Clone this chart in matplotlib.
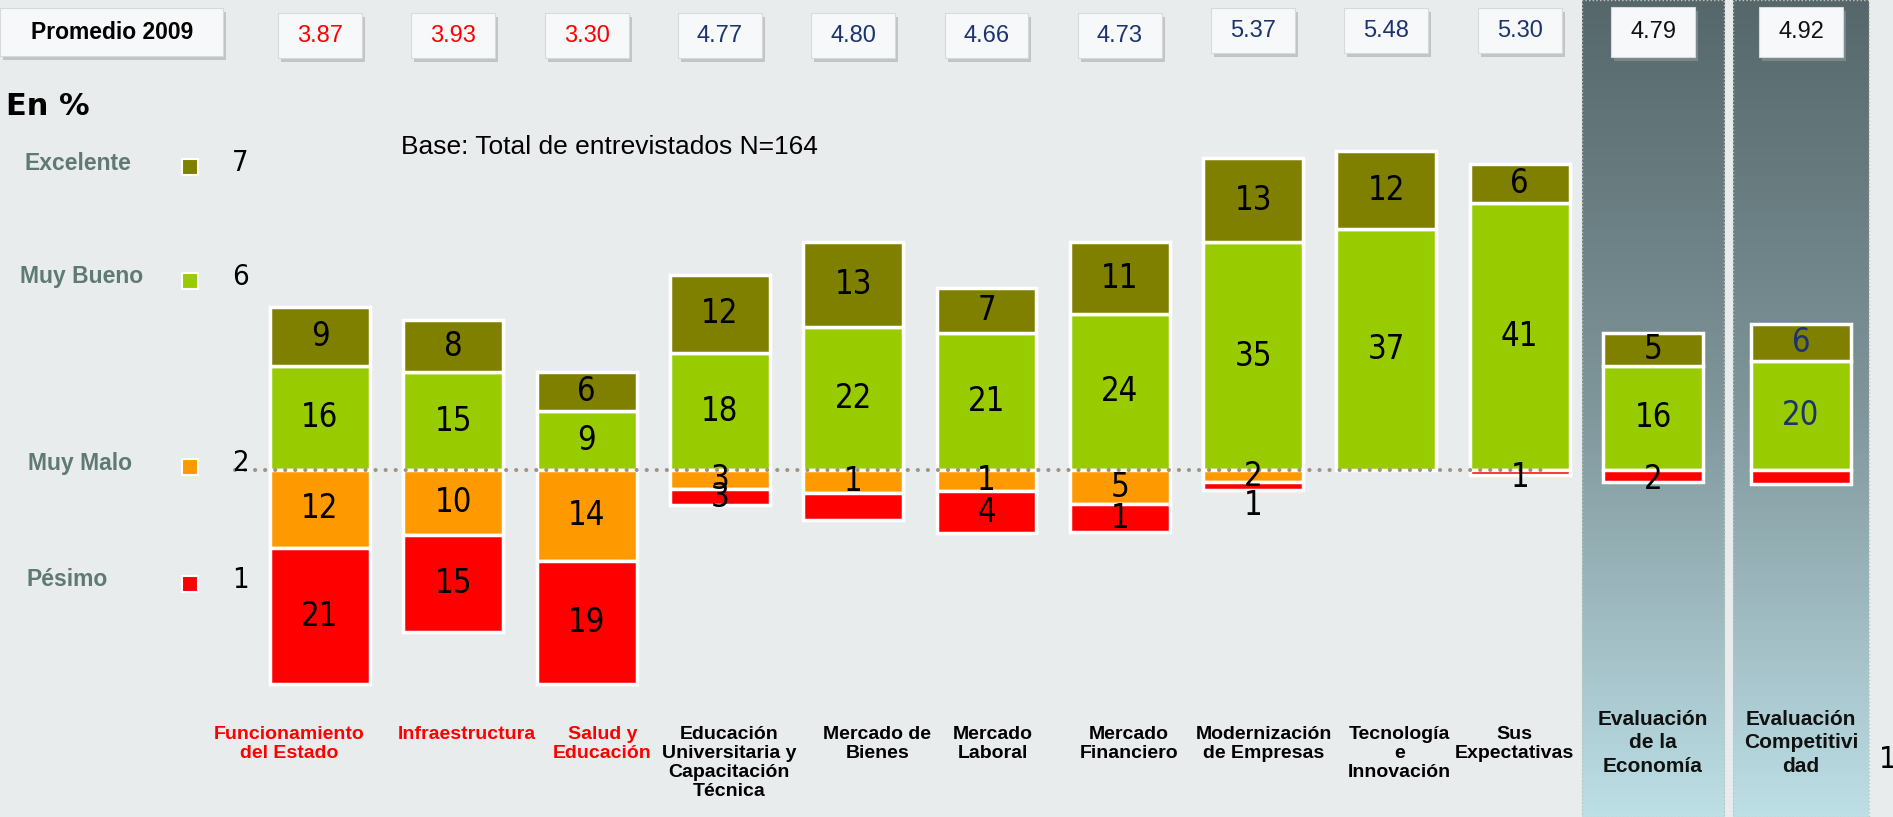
import numpy as np
import matplotlib
matplotlib.use('Agg')
import matplotlib.pyplot as plt
from matplotlib.patches import Rectangle
from matplotlib.transforms import blended_transform_factory

# ---- data ----
categorias = ['Funcionamiento\ndel Estado', 'Infraestructura', 'Salud y\nEducación',
              'Educación\nUniversitaria y\nCapacitación\nTécnica', 'Mercado de\nBienes',
              'Mercado\nLaboral', 'Mercado\nFinanciero', 'Modernización\nde Empresas',
              'Tecnología\ne\nInnovación', 'Sus\nExpectativas',
              'Evaluación\nde la\nEconomía', 'Evaluación\nCompetitivi\ndad']
promedio = [3.87, 3.93, 3.30, 4.77, 4.80, 4.66, 4.73, 5.37, 5.48, 5.30, 4.79, 4.92]

# bar heights (%) as drawn
excelente = [9, 8, 6, 12, 13, 7, 11, 13, 12, 6, 5, 5.6]
muy_bueno = [16, 15, 9, 18, 22, 21, 24, 35, 37, 41, 16, 16.8]
muy_malo = [12, 10, 14, 3, 3.6, 3.3, 5.3, 1.9, 0, 0, 0, 0]
pesimo = [21, 15, 19, 2.4, 4.1, 6.4, 4.2, 1.2, 0, 0.8, 1.9, 2.1]

# labels as printed on the segments
excelente_lbl = ['9', '8', '6', '12', '13', '7', '11', '13', '12', '6', '5', '6']
muy_bueno_lbl = ['16', '15', '9', '18', '22', '21', '24', '35', '37', '41', '16', '20']
muy_malo_lbl = ['12', '10', '14', '3', '1', '1', '5', '2', '', '', '', '']
pesimo_lbl = ['21', '15', '19', '3', '', '4', '1', '1', '', '1', '2', '']

leyenda = ['Excelente', 'Muy Bueno', 'Muy Malo', 'Pésimo']
leyenda_num = ['7', '6', '2', '1']

# ---- style ----
C_EXC, C_MB, C_MM, C_PES = '#808000', '#99CC00', '#FF9900', '#FF0000'
BG = '#E9ECED'
NAVY = '#1C3370'
NARROW = dict(family='DejaVu Sans', fontstretch='condensed')
SANS = ['Liberation Sans', 'DejaVu Sans']

W, H = 1893, 817
fig = plt.figure(figsize=(W / 100, H / 100), dpi=100)
fig.patch.set_facecolor(BG)

ax = fig.add_axes([0, 0, 1, 1])
ax.set_facecolor(BG)
ax.axis('off')

ov = fig.add_axes([0, 0, 1, 1])
ov.set_xlim(0, W)
ov.set_ylim(H, 0)
ov.axis('off')
ov.patch.set_alpha(0)

n = len(categorias)
x = np.arange(n, dtype=float)
x[-1] += 0.11
bw = 0.75

# dark gradient panels behind the two summary bars
grad = np.linspace(0, 1, 256).reshape(-1, 1)
cmap = matplotlib.colors.LinearSegmentedColormap.from_list('pan', ['#55676A', '#7F969B', '#BDDFE6'])
y0, y1 = -53.4, 72.3
for xc, hw in [(x[10], 0.535), (x[11], 0.51)]:
    ax.imshow(grad, extent=(xc - hw, xc + hw, y0, y1), cmap=cmap, aspect='auto',
              origin='upper', zorder=0)
    ax.add_patch(Rectangle((xc - hw, y0), 2 * hw, y1 - y0, fill=False,
                           edgecolor='#C9C4BA', lw=1, ls=':', zorder=1))
ax.set_xlim(-2.4, 11.8)
ax.set_ylim(y0, y1)

# stacked bars (positive: muy bueno + excelente, negative: muy malo + pesimo)
mb = np.array(muy_bueno)
ex = np.array(excelente)
mm = np.array(muy_malo)
ps = np.array(pesimo)
kw = dict(width=bw, edgecolor='white', linewidth=2.5, zorder=2)
ax.bar(x, mb, color=C_MB, **kw)
ax.bar(x, ex, bottom=mb, color=C_EXC, **kw)
m = mm > 0
ax.bar(x[m], -mm[m], color=C_MM, **kw)
p = ps > 0
ax.bar(x[p], -ps[p], bottom=-mm[p], color=C_PES, **kw)

# dotted zero line
ax.plot([x[0] - 0.64, x[9] + 0.18], [0, 0], color='#A09486', lw=3,
        ls=(0, (0.01, 2.4)), dash_capstyle='round', zorder=3)

# segment labels
dy_pes = {7: -3.0, 9: -0.8, 10: -0.6}
for i in range(n):
    col = NAVY if i == 11 else 'black'
    segs = [(excelente_lbl[i], mb[i] + ex[i] / 2),
            (muy_bueno_lbl[i], mb[i] / 2),
            (muy_malo_lbl[i], -mm[i] / 2),
            (pesimo_lbl[i], -mm[i] - ps[i] / 2 + dy_pes.get(i, 0))]
    for txt, yy in segs:
        if txt:
            ax.text(x[i], yy, txt, ha='center', va='center', fontsize=23.5,
                    color=col, zorder=4, **NARROW)

# top boxes with averages
tb = blended_transform_factory(ax.transData, ov.transData)
bx_w = 0.63
prom_col = ['#FF0000'] * 3 + [NAVY] * 7 + ['#111111'] * 2
for i, v in enumerate(promedio):
    top, h = (13, 45) if i < 7 else ((8, 45) if i < 10 else (7, 50))
    dxs = 3 / 133.3
    ov.add_patch(Rectangle((x[i] - bx_w / 2 + dxs, top + 4), bx_w, h, transform=tb,
                           facecolor='#9CA0A2', edgecolor='none', alpha=0.5, zorder=1))
    ov.add_patch(Rectangle((x[i] - bx_w / 2, top), bx_w, h, transform=tb,
                           facecolor='#F6F8F9', edgecolor='#D6DADB', lw=0.8, zorder=2))
    ov.text(x[i], top + h / 2, f'{v:.2f}', transform=tb, ha='center', va='center',
            fontsize=17, family=SANS, color=prom_col[i], zorder=3)

ov.add_patch(Rectangle((3, 12), 223, 48, facecolor='#9CA0A2', edgecolor='none', alpha=0.5))
ov.add_patch(Rectangle((0, 8), 223, 48, facecolor='#F6F8F9', edgecolor='#D6DADB', lw=0.8))
ov.text(112, 32, 'Promedio 2009', ha='center', va='center', fontsize=16.5,
        fontweight='bold', family=SANS, color='black')

ov.text(6, 106, 'En %', ha='left', va='center', fontsize=22, fontweight='bold',
        family='DejaVu Sans', color='black')
ov.text(401, 147, 'Base: Total de entrevistados N=164', ha='left', va='center',
        fontsize=19, family=SANS, color='black')

# legend on the left
leg_y = [163, 277, 463, 580]
leg_x = [24, 20, 28, 27]
leg_c = [C_EXC, C_MB, C_MM, C_PES]
for lab, num, yy, xx, c in zip(leyenda, leyenda_num, leg_y, leg_x, leg_c):
    ov.text(xx, yy, lab, ha='left', va='center', fontsize=16.5, fontweight='bold',
            family=SANS, color='#5F7A73')
    ov.add_patch(Rectangle((182, yy - 4), 16, 16, facecolor=c, edgecolor='white', lw=1.5))
    ov.text(232, yy, num, ha='left', va='center', fontsize=21, color='black', **NARROW)

# category labels
lbl_dx = [-0.23, 0.1, 0.12, 0.07, 0.18, 0.05, 0.07, 0.08, 0.1, -0.04, 0, 0]
for i, lab in enumerate(categorias):
    if i < 10:
        col = '#FF0000' if i < 3 else 'black'
        ov.text(x[i] + lbl_dx[i], 726, lab, transform=tb, ha='center', va='top',
                fontsize=14, fontweight='bold', family=SANS, color=col, linespacing=1.15)
    else:
        ov.text(x[i] + lbl_dx[i], 710, lab, transform=tb, ha='center', va='top',
                fontsize=15, fontweight='bold', family=SANS, color='#111111', linespacing=1.3)

ov.text(1879, 760, '1', ha='left', va='center', fontsize=22, color='black', **NARROW)

fig.savefig('out.png', dpi=100, facecolor=BG)
